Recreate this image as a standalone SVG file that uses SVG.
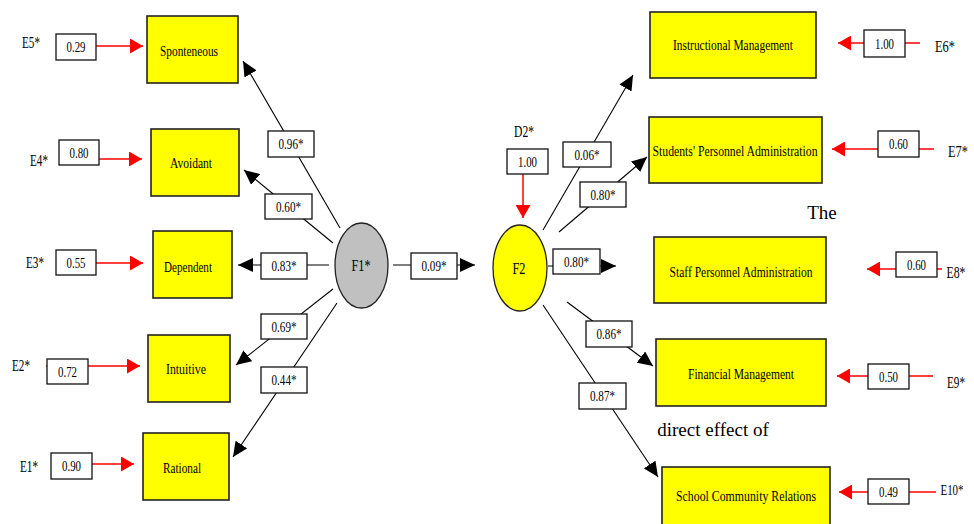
<svg xmlns="http://www.w3.org/2000/svg" width="974" height="524" viewBox="0 0 974 524">
<defs>
<marker id="ab" markerUnits="userSpaceOnUse" markerWidth="16" markerHeight="14" refX="15" refY="7" orient="auto"><path d="M0,0 L15,7 L0,14 z" fill="#000"/></marker>
<marker id="ar" markerUnits="userSpaceOnUse" markerWidth="14" markerHeight="15" refX="13" refY="7.5" orient="auto"><path d="M0,0 L13,7.5 L0,15 z" fill="#ff0000"/></marker>
<style>
.n{fill:#ffff00;stroke:#222;stroke-width:1.6}
.b{fill:#fff;stroke:#111;stroke-width:1.3}
.t{font-family:"Liberation Serif",serif;fill:#000;text-anchor:middle}
.nl{font-size:15px}
.c{font-size:14px}
.e{font-size:16px}
.bl{stroke:#000;stroke-width:1.1;fill:none;marker-end:url(#ab)}
.rl{stroke:#ff0000;stroke-width:1.5;fill:none;marker-end:url(#ar)}
</style>
</defs>
<rect width="974" height="524" fill="#fff"/>
<g id="connectors">
<line class="rl" x1="96" y1="46" x2="143" y2="46"/>
<line class="rl" x1="99" y1="159" x2="142" y2="159"/>
<line class="rl" x1="96" y1="263" x2="143" y2="263"/>
<line class="rl" x1="46" y1="366" x2="140" y2="366"/>
<line class="rl" x1="92" y1="464" x2="134" y2="464"/>
<line class="rl" x1="920" y1="43" x2="838" y2="43"/>
<line class="rl" x1="934" y1="149" x2="832" y2="149"/>
<line class="rl" x1="942" y1="269" x2="867" y2="269"/>
<line class="rl" x1="933" y1="376" x2="837" y2="376"/>
<line class="rl" x1="936" y1="492" x2="839" y2="492"/>
<line class="rl" x1="523" y1="174" x2="523" y2="218"/>
<line class="bl" x1="340" y1="228" x2="243" y2="61"/>
<line class="bl" x1="333" y1="243" x2="244" y2="170"/>
<line class="bl" x1="329" y1="265" x2="238" y2="265"/>
<line class="bl" x1="333" y1="289" x2="236" y2="365"/>
<line class="bl" x1="337" y1="303" x2="233" y2="457"/>
<line class="bl" x1="393" y1="265" x2="475" y2="265"/>
<line class="bl" x1="543" y1="230" x2="633" y2="75"/>
<line class="bl" x1="559" y1="232" x2="647" y2="157"/>
<line class="bl" x1="548" y1="266" x2="616" y2="266"/>
<line class="bl" x1="567" y1="302" x2="653" y2="366"/>
<line class="bl" x1="543" y1="305" x2="658" y2="477"/>
</g>
<g id="coefs">
<rect class="b" x="268" y="131" width="46" height="26"/><text class="t c" x="291" y="149" textLength="25" lengthAdjust="spacingAndGlyphs">0.96*</text>
<rect class="b" x="265" y="194" width="47" height="25"/><text class="t c" x="288.5" y="211.5" textLength="25" lengthAdjust="spacingAndGlyphs">0.60*</text>
<rect class="b" x="261" y="253" width="46" height="26"/><text class="t c" x="284" y="271" textLength="25" lengthAdjust="spacingAndGlyphs">0.83*</text>
<rect class="b" x="261" y="314" width="46" height="25"/><text class="t c" x="284" y="331.5" textLength="25" lengthAdjust="spacingAndGlyphs">0.69*</text>
<rect class="b" x="261" y="367" width="46" height="26"/><text class="t c" x="284" y="385" textLength="25" lengthAdjust="spacingAndGlyphs">0.44*</text>
<rect class="b" x="411" y="253" width="46" height="26"/><text class="t c" x="434" y="271" textLength="25" lengthAdjust="spacingAndGlyphs">0.09*</text>
<rect class="b" x="563" y="142" width="48" height="25"/><text class="t c" x="587" y="159.5" textLength="25" lengthAdjust="spacingAndGlyphs">0.06*</text>
<rect class="b" x="580" y="182" width="46" height="25"/><text class="t c" x="603" y="199.5" textLength="25" lengthAdjust="spacingAndGlyphs">0.80*</text>
<rect class="b" x="553" y="249" width="47" height="25"/><text class="t c" x="576.5" y="266.5" textLength="25" lengthAdjust="spacingAndGlyphs">0.80*</text>
<rect class="b" x="586" y="321" width="46" height="26"/><text class="t c" x="609" y="339" textLength="25" lengthAdjust="spacingAndGlyphs">0.86*</text>
<rect class="b" x="579" y="383" width="47" height="26"/><text class="t c" x="602.5" y="401" textLength="25" lengthAdjust="spacingAndGlyphs">0.87*</text>
</g>
<g id="E5"><text class="t e" x="31" y="48" textLength="18" lengthAdjust="spacingAndGlyphs">E5*</text><rect class="b" x="56" y="34" width="40" height="26"/><text class="t c" x="76" y="52" textLength="19" lengthAdjust="spacingAndGlyphs">0.29</text></g>
<g id="E4"><text class="t e" x="39" y="166" textLength="18" lengthAdjust="spacingAndGlyphs">E4*</text><rect class="b" x="59" y="140" width="40" height="25"/><text class="t c" x="79" y="157.5" textLength="19" lengthAdjust="spacingAndGlyphs">0.80</text></g>
<g id="E3"><text class="t e" x="35" y="268" textLength="18" lengthAdjust="spacingAndGlyphs">E3*</text><rect class="b" x="56" y="250" width="40" height="25"/><text class="t c" x="76" y="267.5" textLength="19" lengthAdjust="spacingAndGlyphs">0.55</text></g>
<g id="E2"><text class="t e" x="21" y="371" textLength="18" lengthAdjust="spacingAndGlyphs">E2*</text><rect class="b" x="47" y="359" width="41" height="25"/><text class="t c" x="67.5" y="376.5" textLength="19" lengthAdjust="spacingAndGlyphs">0.72</text></g>
<g id="E1"><text class="t e" x="29" y="472" textLength="18" lengthAdjust="spacingAndGlyphs">E1*</text><rect class="b" x="51" y="453" width="41" height="26"/><text class="t c" x="71.5" y="471" textLength="19" lengthAdjust="spacingAndGlyphs">0.90</text></g>
<g id="E6"><rect class="b" x="864" y="30" width="41" height="27"/><text class="t c" x="884.5" y="48.5" textLength="19" lengthAdjust="spacingAndGlyphs">1.00</text><text class="t e" x="945" y="52" textLength="20" lengthAdjust="spacingAndGlyphs">E6*</text></g>
<g id="E7"><rect class="b" x="878" y="131" width="41" height="26"/><text class="t c" x="898.5" y="149" textLength="19" lengthAdjust="spacingAndGlyphs">0.60</text><text class="t e" x="958" y="157" textLength="20" lengthAdjust="spacingAndGlyphs">E7*</text></g>
<g id="E8"><rect class="b" x="896" y="252" width="41" height="25"/><text class="t c" x="916.5" y="269.5" textLength="19" lengthAdjust="spacingAndGlyphs">0.60</text><text class="t e" x="956" y="278" textLength="19" lengthAdjust="spacingAndGlyphs">E8*</text></g>
<g id="E9"><rect class="b" x="868" y="364" width="41" height="25"/><text class="t c" x="888.5" y="381.5" textLength="19" lengthAdjust="spacingAndGlyphs">0.50</text><text class="t e" x="956" y="388" textLength="18" lengthAdjust="spacingAndGlyphs">E9*</text></g>
<g id="E10"><rect class="b" x="868" y="479" width="41" height="25"/><text class="t c" x="888.5" y="496.5" textLength="19" lengthAdjust="spacingAndGlyphs">0.49</text><text class="t" x="952" y="495" font-size="14" textLength="23" lengthAdjust="spacingAndGlyphs">E10*</text></g>
<g id="D2"><text class="t e" x="524" y="137" textLength="20" lengthAdjust="spacingAndGlyphs">D2*</text><rect class="b" x="507" y="149" width="41" height="25"/><text class="t c" x="527.5" y="166.5" textLength="19" lengthAdjust="spacingAndGlyphs">1.00</text></g>
<g id="Spontaneous"><rect class="n" x="147" y="16" width="91" height="67"/><text class="t nl" x="189" y="56" textLength="58" lengthAdjust="spacingAndGlyphs">Sponteneous</text></g>
<g id="Avoidant"><rect class="n" x="151" y="129" width="88" height="67"/><text class="t nl" x="191" y="168" textLength="42" lengthAdjust="spacingAndGlyphs">Avoidant</text></g>
<g id="Dependent"><rect class="n" x="153" y="231" width="79" height="67"/><text class="t nl" x="188" y="272" textLength="48" lengthAdjust="spacingAndGlyphs">Dependent</text></g>
<g id="Intuitive"><rect class="n" x="148" y="335" width="82" height="67"/><text class="t nl" x="186" y="374" textLength="40" lengthAdjust="spacingAndGlyphs">Intuitive</text></g>
<g id="Rational"><rect class="n" x="143" y="433" width="86" height="67"/><text class="t nl" x="182" y="473" textLength="38" lengthAdjust="spacingAndGlyphs">Rational</text></g>
<g id="F1"><ellipse cx="361.5" cy="265.5" rx="26.5" ry="42.5" fill="#c0c0c0" stroke="#222" stroke-width="1.3"/><text class="t e" x="361" y="271" textLength="19" lengthAdjust="spacingAndGlyphs">F1*</text></g>
<g id="F2"><ellipse cx="520" cy="268" rx="27" ry="43" fill="#ffff00" stroke="#222" stroke-width="1.3"/><text class="t e" x="519" y="274" textLength="13" lengthAdjust="spacingAndGlyphs">F2</text></g>
<g id="InstructionalManagement"><rect class="n" x="650" y="12" width="166" height="66"/><text class="t nl" x="733" y="50" textLength="120" lengthAdjust="spacingAndGlyphs">Instructional Management</text></g>
<g id="StudentsPersonnel"><rect class="n" x="649" y="117" width="173" height="66"/><text class="t nl" x="735" y="156" textLength="165" lengthAdjust="spacingAndGlyphs">Students' Personnel Administration</text></g>
<g id="StaffPersonnel"><rect class="n" x="654" y="237" width="172" height="66"/><text class="t nl" x="741" y="277" textLength="143" lengthAdjust="spacingAndGlyphs">Staff Personnel Administration</text></g>
<g id="FinancialManagement"><rect class="n" x="656" y="339" width="170" height="67"/><text class="t nl" x="741" y="379" textLength="106" lengthAdjust="spacingAndGlyphs">Financial Management</text></g>
<g id="SchoolCommunity"><rect class="n" x="662" y="467" width="168" height="67"/><text class="t nl" x="746" y="501" textLength="140" lengthAdjust="spacingAndGlyphs">School Community Relations</text></g>
<text class="t" x="822" y="219" font-size="19">The</text>
<text class="t" x="713" y="436" font-size="19">direct effect of</text>
</svg>
